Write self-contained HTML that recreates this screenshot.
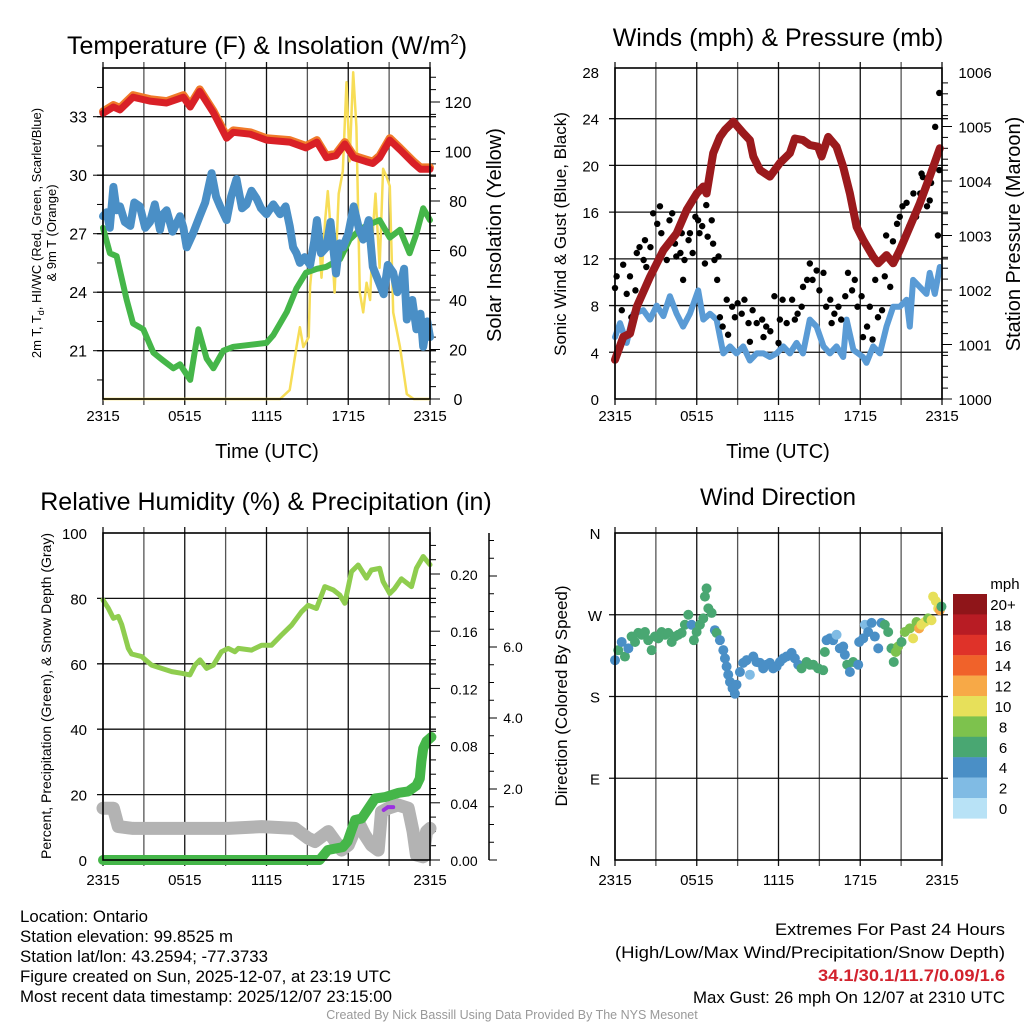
<!DOCTYPE html>
<html><head><meta charset="utf-8">
<style>
html,body{margin:0;padding:0;background:#fff;}
svg{display:block;font-family:"Liberation Sans",Arial,sans-serif;}
</style></head>
<body>
<svg id="chart" width="1024" height="1024" viewBox="0 0 1024 1024" xmlns="http://www.w3.org/2000/svg">
<rect x="0" y="0" width="1024" height="1024" fill="#fff"/>
<g id="p1"></g>
<g id="p2"></g>
<g id="p3"></g>
<g id="p4"></g>
<g id="txt">
<text x="267" y="54" font-size="25" text-anchor="middle">Temperature (F) &amp; Insolation (W/m<tspan font-size="15" dy="-10">2</tspan><tspan dy="10">)</tspan></text>
<text x="778" y="46" font-size="25" text-anchor="middle">Winds (mph) &amp; Pressure (mb)</text>
<text x="266" y="510" font-size="25" text-anchor="middle">Relative Humidity (%) &amp; Precipitation (in)</text>
<text x="778" y="505" font-size="24" text-anchor="middle">Wind Direction</text>
<text x="267" y="458" font-size="20" text-anchor="middle">Time (UTC)</text>
<text x="778" y="458" font-size="20" text-anchor="middle">Time (UTC)</text>
<g font-size="13" text-anchor="middle">
<text transform="translate(41,233) rotate(-90)">2m T, T<tspan font-size="9" dy="3">d</tspan><tspan dy="-3">, HI/WC (Red, Green, Scarlet/Blue)</tspan></text>
<text transform="translate(56,233) rotate(-90)">&amp; 9m T (Orange)</text>
</g>
<text transform="translate(501,235) rotate(-90)" font-size="20" text-anchor="middle">Solar Insolation (Yellow)</text>
<text transform="translate(566,234) rotate(-90)" font-size="17" text-anchor="middle">Sonic Wind &amp; Gust (Blue, Black)</text>
<text transform="translate(1020,234) rotate(-90)" font-size="20" text-anchor="middle">Station Pressure (Maroon)</text>
<text transform="translate(51,696) rotate(-90)" font-size="14" text-anchor="middle">Percent, Precipitation (Green), &amp; Snow Depth (Gray)</text>
<text transform="translate(567,696) rotate(-90)" font-size="17" text-anchor="middle">Direction (Colored By Speed)</text>
<g font-size="16.5">
<text x="20" y="922" textLength="128" lengthAdjust="spacingAndGlyphs">Location: Ontario</text>
<text x="20" y="942" textLength="213" lengthAdjust="spacingAndGlyphs">Station elevation: 99.8525 m</text>
<text x="20" y="962" textLength="248" lengthAdjust="spacingAndGlyphs">Station lat/lon: 43.2594; -77.3733</text>
<text x="20" y="982" textLength="371" lengthAdjust="spacingAndGlyphs">Figure created on Sun, 2025-12-07, at 23:19 UTC</text>
<text x="20" y="1002" textLength="372" lengthAdjust="spacingAndGlyphs">Most recent data timestamp: 2025/12/07 23:15:00</text>
</g>
<g font-size="17" text-anchor="end">
<text x="1005" y="935" textLength="230" lengthAdjust="spacingAndGlyphs">Extremes For Past 24 Hours</text>
<text x="1005" y="958" textLength="390" lengthAdjust="spacingAndGlyphs">(High/Low/Max Wind/Precipitation/Snow Depth)</text>
<text x="1005" y="981" fill="#d2222d" font-weight="bold" textLength="187" lengthAdjust="spacingAndGlyphs">34.1/30.1/11.7/0.09/1.6</text>
<text x="1005" y="1003" textLength="312" lengthAdjust="spacingAndGlyphs">Max Gust: 26 mph On 12/07 at 2310 UTC</text>
</g>
<text x="512" y="1019" font-size="12.5" fill="#999" text-anchor="middle">Created By Nick Bassill Using Data Provided By The NYS Mesonet</text>
</g>
</svg>
<script>
// ---------- DATA ----------
const xTickLabels = ["2315","0515","1115","1715","2315"];
const tempTicks = [33,30,27,24,21];
const insolTicks = [0,20,40,60,80,100,120];
const windTicks = [0,4,8,12,16,20,24,28];
const presTicks = [1000,1001,1002,1003,1004,1005,1006];
const rhTicks = [0,20,40,60,80,100];
const precipTicks = [0.00,0.04,0.08,0.12,0.16,0.20];
const snowTicks = [2.0,4.0,6.0];
const dirLabels = ["N","W","S","E","N"];
const dirTicks = [360,270,180,90,0];
const speedBins = ["20+","18","16","14","12","10","8","6","4","2","0"];
const speedColors = ["#8f1519","#b81c24","#df3229","#f0622a","#f7a947","#e7e05a","#7dc24d","#49a772","#4a8fc6","#80bbe4","#b8e2f6"];

const redHours = [0,0.76,1.25,2.2,3.45,4.67,5.9,6.4,7.1,8.1,9.07,9.56,10.8,12.0,13.7,14.9,15.7,16.4,17.1,17.75,18.4,19.3,19.8,20.3,21.05,21.8,22.8,23.3,24];
const redTemp = [33.17,33.5,33.35,34.0,33.8,33.7,34.0,33.5,34.3,33.2,31.9,32.2,32.1,31.8,31.7,31.4,31.7,30.9,31.0,31.6,30.9,30.7,30.6,30.9,31.8,31.3,30.6,30.3,30.3];
const orangeTemp = [33.27,33.6,33.45,34.1,33.9,33.8,34.1,33.6,34.4,33.3,32.0,32.3,32.2,31.9,31.8,31.5,31.8,31.0,31.1,31.7,31.0,30.8,30.7,31.0,31.9,31.4,30.7,30.4,30.4];
const blueHours = [0,0.27,0.5,0.76,1.0,1.25,1.6,2.0,2.3,2.71,3.1,3.45,3.8,4.18,4.4,4.67,5.1,5.65,5.9,6.14,6.6,7.1,7.5,7.97,8.3,8.6,9.07,9.4,9.8,10.2,10.54,10.9,11.27,11.6,12.0,12.5,13.0,13.4,13.7,13.95,14.2,14.45,14.8,15.2,15.5,15.7,16.0,16.4,16.7,17.1,17.35,17.6,18.0,18.4,18.8,19.1,19.5,19.8,20.2,20.6,20.9,21.3,21.6,21.8,22.1,22.3,22.7,23.0,23.3,23.5,23.8,24];
const blueTemp = [27.9,28.1,27.3,29.4,28.2,28.4,27.6,27.4,28.6,28.4,27.3,27.6,28.5,27.2,28.0,28.2,27.1,27.9,27.3,26.3,27.0,27.9,28.6,30.1,28.9,28.4,27.7,28.9,29.8,28.3,28.5,29.2,28.8,28.3,28.0,28.5,28.0,28.4,27.4,26.3,26.0,25.5,25.8,25.4,26.6,27.7,26.0,26.3,27.6,24.96,26.5,26.3,27.0,28.4,27.2,26.7,27.7,25.3,24.6,23.9,25.4,25.0,24.0,24.3,25.2,22.6,23.6,22.1,22.9,21.2,22.5,21.7];
const greenHours = [0,0.51,1.0,1.74,2.2,2.96,3.7,4.4,5.16,5.65,6.4,7.0,7.6,8.1,8.83,9.56,10.8,12.0,12.5,13.5,14.2,14.9,15.7,16.4,17.4,18.1,18.85,19.3,20.3,21.05,21.8,22.5,23.0,23.5,24];
const greenTemp = [27.3,26.0,25.85,23.6,22.4,22.1,20.9,20.5,20.1,20.3,19.5,22.1,20.6,20.1,21.0,21.2,21.3,21.4,21.8,23.0,24.2,25.0,25.2,25.3,25.7,26.7,27.2,27.4,27.7,26.8,27.2,26.0,27.0,28.3,27.7];
const solarHours = [0,13.0,13.7,14.2,14.45,14.7,15.1,15.2,15.55,15.8,16.04,16.3,16.5,16.8,17.0,17.3,17.6,17.87,18.1,18.36,18.6,18.85,19.1,19.35,19.6,19.83,20.0,20.3,20.56,20.8,21.05,21.3,21.8,22.3,22.8,24];
const solarWm2 = [0,0,3.6,21,29,21,25,45.5,67,70,49,72,84,62,43,83,92,128,96,132,110,43,35,47,40,70,83,53,93,90,86,35,21,2,0,0];

const presHours = [0,0.61,1.1,1.59,2.57,3.55,4.52,5.26,6.0,6.48,6.72,7.21,7.7,8.07,8.68,9.41,9.9,10.15,10.64,11.37,12.1,12.84,13.2,13.8,14.3,14.9,15.16,15.65,16.26,16.75,17.24,17.73,18.22,18.95,19.32,19.93,20.42,20.9,21.64,22.37,23.1,23.84];
const presMb = [1000.72,1001.14,1001.2,1001.69,1002.24,1002.73,1003.04,1003.47,1003.77,1003.9,1003.77,1004.51,1004.81,1004.94,1005.09,1004.88,1004.75,1004.45,1004.2,1004.08,1004.33,1004.51,1004.78,1004.75,1004.66,1004.63,1004.45,1004.81,1004.63,1004.26,1003.77,1003.16,1002.92,1002.61,1002.49,1002.64,1002.49,1002.73,1003.16,1003.59,1004.08,1004.6];
const windHours = [0,0.37,0.86,1.34,2.08,2.57,3.06,3.55,4.03,4.52,5.0,5.5,6.11,6.48,6.97,7.46,7.95,8.44,8.92,9.41,9.9,10.4,10.9,11.37,11.86,12.35,12.84,13.33,13.8,14.3,14.8,15.3,15.77,16.26,16.75,17.0,17.5,18.2,18.46,18.95,19.44,19.93,20.42,20.9,21.4,21.64,21.88,22.37,22.86,23.1,23.47,23.84];
const windMph = [5.3,6.5,4.8,7.3,7.6,6.8,8.0,7.1,8.8,7.3,6.2,7.3,9.3,6.8,7.3,6.8,3.9,4.5,3.9,4.5,3.3,3.9,3.9,3.6,3.9,4.5,3.9,4.8,3.9,6.8,6.2,4.5,3.9,4.5,3.6,6.8,4.2,3.6,3.1,4.5,3.9,6.2,7.9,7.9,8.5,6.2,10.2,9.6,9.0,10.8,9.0,11.3];
const gustHours = [0,0.12,0.6,0.5,0.86,1.1,1.2,1.5,1.6,1.8,2.1,2.2,2.3,2.6,2.8,3.1,3.3,3.4,3.7,3.8,4.0,4.2,4.4,4.5,4.8,4.9,5.0,5.1,5.4,5.5,5.7,5.9,6.1,6.2,6.4,6.6,6.7,6.8,7.1,7.2,7.3,7.5,7.6,7.7,7.9,8.2,8.3,8.6,8.8,9.0,9.3,9.5,9.8,9.9,10.1,10.4,10.8,10.9,11.1,11.4,11.7,12.0,12.1,12.3,12.6,13.0,13.2,13.4,13.7,13.8,14.1,14.3,14.5,14.8,15.0,15.3,15.5,15.8,15.9,16.1,16.4,16.6,16.9,17.1,17.4,17.6,17.8,18.1,18.2,18.5,18.7,18.9,19.1,19.3,19.6,19.8,19.9,20.2,20.4,20.7,20.9,21.1,21.4,21.6,21.9,22.1,22.4,22.5,22.6,22.9,23.1,23.2,23.5,23.7,23.8,23.8];
const gustMph = [9.5,10.5,11.5,7.6,9.0,10.5,7.0,9.3,12.5,13.0,11.9,13.6,11.3,13.0,15.9,15.0,16.5,14.2,13.0,11.9,15.3,15.9,13.3,12.2,12.5,14.2,10.2,11.9,13.6,14.2,12.5,15.6,15.3,14.2,14.8,11.6,16.6,13.9,15.3,13.3,11.9,10.2,12.2,7.0,6.2,8.5,5.5,7.9,7.0,8.2,7.3,8.5,6.5,4.9,7.6,6.5,6.8,5.3,6.2,5.8,8.8,4.8,6.8,8.5,6.5,8.5,6.8,7.3,7.9,9.6,10.2,11.6,10.2,11.0,9.3,10.8,7.9,8.5,6.5,7.3,7.9,6.8,8.8,10.8,9.3,10.2,7.9,8.8,5.3,6.2,7.9,5.1,10.2,7.0,7.6,10.5,14.0,9.6,13.5,15.0,15.6,16.5,16.8,14.8,17.6,15.6,17.6,19.3,19.0,16.5,17.0,18.5,23.3,14.0,19.6,26.2];

const rhHours = [0,0.39,0.76,1.12,1.37,1.86,2.1,2.84,3.57,4.3,5.04,5.78,6.38,6.75,7.12,7.6,8.1,8.7,9.19,9.68,9.93,10.9,11.64,12.37,13.1,13.84,14.57,15.06,15.67,16.28,16.9,17.38,17.75,18.24,18.73,19.34,19.7,20.3,20.55,21.05,21.4,21.9,22.64,23.0,23.5,24];
const rhPct = [79.5,77,73.9,74.5,72,64.7,63,62.2,59.6,58.6,57.6,57.1,56.6,59.6,61.2,58.6,59.6,63.7,64.7,63.7,64.7,64.2,65.7,65.7,68.8,71.8,75.9,77.9,76.9,83.6,82.6,81,78.5,88.2,90.2,86.2,88.7,89.2,85.2,81.5,83,86,83.6,89.2,92.8,90.3];
const precipHours = [0,15.9,16.5,17.6,17.95,18.5,18.99,19.48,19.97,20.7,21.7,22.4,23.0,23.25,23.37,23.5,23.74,24.1];
const precipIn = [0,0,0.007,0.009,0.013,0.028,0.029,0.036,0.043,0.044,0.047,0.048,0.052,0.057,0.069,0.078,0.083,0.086];
const snowHours = [0,0.39,0.76,1.12,2.2,4.3,9.19,11.64,14.08,15.06,15.55,16.53,17.51,18.0,18.73,19.22,19.7,20.2,20.44,20.93,21.66,22.4,22.76,23.0,23.5,23.74,24];
const snowIn = [1.46,1.46,1.46,0.94,0.89,0.89,0.89,0.94,0.89,0.61,0.52,0.80,0.28,0.42,1.08,0.70,0.42,0.28,1.36,1.46,1.55,1.46,0.80,0.14,0.09,0.80,0.89];
const purpleHours = [20.6,20.9,21.3];
const purpleIn = [0.035,0.037,0.037];

const dirHours = [0,0.24,0.49,0.73,0.98,1.22,1.47,1.71,1.96,2.2,2.44,2.69,2.93,3.18,3.42,3.67,3.91,4.16,4.4,4.65,4.89,5.13,5.38,5.62,5.79,5.99,6.23,6.48,6.6,6.72,6.85,7.09,7.33,7.46,7.7,7.95,8.07,8.19,8.31,8.44,8.63,8.8,8.92,9.17,9.41,9.66,9.9,10.15,10.39,10.64,10.88,11.12,11.37,11.61,11.86,12.1,12.35,12.59,12.96,13.2,13.45,13.69,14.06,14.3,14.55,14.91,15.28,15.4,15.53,15.77,16.01,16.26,16.5,16.75,16.87,17.04,17.24,17.48,17.85,17.92,18.22,18.34,18.58,18.83,19.07,19.32,19.56,19.8,20.05,20.29,20.46,20.61,20.78,21.03,21.27,21.64,21.88,22.13,22.32,22.49,22.74,22.98,23.23,23.35,23.55,23.72,23.84,23.96];
const dirDeg = [220,231,240,224,233,246,240,250,248,251,242,231,246,244,251,248,250,240,246,248,250,259,270,259,242,251,259,266,290,299,277,272,253,250,242,231,222,213,204,196,189,183,193,207,217,220,204,224,218,217,211,215,217,211,213,218,222,224,228,222,215,211,218,215,215,211,209,229,242,244,242,248,233,235,226,215,207,218,215,240,244,259,251,261,246,233,261,259,251,233,218,229,235,240,251,255,244,262,255,259,262,266,264,290,285,277,275,279];
const dirSpeed = [4,6,4,6,4,6,6,6,7,7,6,6,6,6,7,7,7,7,6,6,7,6,6,4,6,7,6,6,6,7,6,7,4,6,4,4,4,4,4,4,4,4,4,4,4,4,2,4,4,4,4,4,4,4,4,4,4,4,4,4,4,6,6,6,6,6,6,6,4,4,4,2,4,4,4,6,4,6,4,4,4,2,4,4,4,4,4,6,6,6,6,8,8,6,8,8,10,8,12,10,10,8,10,10,10,10,12,6];

// ---------- HELPERS ----------
const NS = "http://www.w3.org/2000/svg";
function mk(parent, tag, attrs){ const e=document.createElementNS(NS,tag); for(const k in attrs) e.setAttribute(k,attrs[k]); parent.appendChild(e); return e; }
function linePath(xs, ys, xf, yf){ let d=""; for(let i=0;i<xs.length;i++){ d+=(i?"L":"M")+xf(xs[i]).toFixed(1)+","+yf(ys[i]).toFixed(1);} return d; }

function frame(g, L, T, R, B, hGridYs){
  for(let k=0;k<=8;k++){
    const x=L+(R-L)*k/8;
    const v=mk(g,"line",{x1:x,y1:T-6,x2:x,y2:B+6,stroke:(k%2? "#555":"#111"),"stroke-width":1.3});
    
    
  }
  hGridYs.forEach(y=>{
    const h=mk(g,"line",{x1:L-6,y1:y,x2:R+6,y2:y,stroke:"#111","stroke-width":1.3});
    
    
  });
}
function border(g,L,T,R,B){
  const b=mk(g,"rect",{x:L,y:T,width:R-L,height:B-T,fill:"none",stroke:"#000","stroke-width":1.6});
  
  
}
function xLabels(g,L,R,y){
  xTickLabels.forEach((t,i)=>{
    const tx=mk(g,"text",{x:L+(R-L)*i/4,y:y,"font-size":15,"text-anchor":"middle"});
    tx.textContent=t;
    
    
  });
}

// ---------- PANEL 1 ----------
(function(){
  const g=document.getElementById("p1");
  const L=103,R=430,T=68,B=399;
  const x=h=>L+h*(R-L)/24;
  const yT=t=>116.7-(t-33)*19.5;
  const yS=w=>399-w*2.475;
  frame(g,L,T,R,B,tempTicks.map(yT));
  tempTicks.forEach(t=>{
    const tx=mk(g,"text",{x:L-16,y:yT(t)+6,"font-size":16,"text-anchor":"end"}); tx.textContent=t;
    
    
  });
  for(let t=19.5;t<=35;t+=1.5){ mk(g,"line",{x1:L-(t%3===0?10:6),y1:yT(t),x2:L,y2:yT(t),stroke:"#000","stroke-width":1}); }
  for(let w=0;w<=130;w+=5){ mk(g,"line",{x1:R,y1:yS(w),x2:R+(w%20===0?10:6),y2:yS(w),stroke:"#000","stroke-width":1}); }
  insolTicks.forEach(w=>{
    const tx=mk(g,"text",{x:R+28,y:yS(w)+6,"font-size":16,"text-anchor":"middle"}); tx.textContent=w;
    
    
  });
  const sol=mk(g,"path",{d:linePath(solarHours,solarWm2,x,yS),fill:"none",stroke:"#f7dd57","stroke-width":2.5,"stroke-linejoin":"round"});
  
  
  const gr=mk(g,"path",{d:linePath(greenHours,greenTemp,x,yT),fill:"none",stroke:"#45b649","stroke-width":6,"stroke-linejoin":"round","stroke-linecap":"round"});
  
  
  const bl=mk(g,"path",{d:linePath(blueHours,blueTemp,x,yT),fill:"none",stroke:"#4a8fc6","stroke-width":8,"stroke-linejoin":"round","stroke-linecap":"round"});
  
  
  const or=mk(g,"path",{d:linePath(redHours,orangeTemp,x,yT),fill:"none",stroke:"#f07a2a","stroke-width":8,"stroke-linejoin":"round","stroke-linecap":"round"});
  
  
  const rd=mk(g,"path",{d:linePath(redHours,redTemp,x,yT),fill:"none",stroke:"#d92027","stroke-width":7,"stroke-linejoin":"round","stroke-linecap":"round"});
  
  
  border(g,L,T,R,B);
  xLabels(g,L,R,421);
})();

// ---------- PANEL 2 ----------
(function(){
  const g=document.getElementById("p2");
  const L=615,R=942,T=68,B=399;
  const x=h=>L+h*(R-L)/24;
  const yW=v=>399-v*11.68;
  const yP=p=>399-(p-1000)*54.5;
  frame(g,L,T,R,B,windTicks.slice(1,7).map(yW));
  windTicks.forEach(v=>{
    const tx=mk(g,"text",{x:L-16,y:yW(v)+6,"font-size":15,"text-anchor":"end"}); tx.textContent=v;
    
    
  });
  for(let p=1000;p<=1006;p+=0.2){ const major=Math.abs(p-Math.round(p))<0.01; mk(g,"line",{x1:R,y1:yP(p),x2:R+(major?10:6),y2:yP(p),stroke:"#000","stroke-width":1}); }
  presTicks.forEach(p=>{
    const tx=mk(g,"text",{x:R+33,y:yP(p)+6,"font-size":15,"text-anchor":"middle"}); tx.textContent=p;
    
    
  });
  const bl=mk(g,"path",{d:linePath(windHours,windMph,x,yW),fill:"none",stroke:"#5a9bd5","stroke-width":6,"stroke-linejoin":"round","stroke-linecap":"round"});
  
  
  gustHours.forEach((h,i)=>{
    const c=mk(g,"circle",{cx:x(h),cy:yW(gustMph[i]),r:3.2,fill:"#000"});
    
    
  });
  const pr=mk(g,"path",{d:linePath(presHours,presMb,x,yP),fill:"none",stroke:"#9b1a1d","stroke-width":8,"stroke-linejoin":"round","stroke-linecap":"round"});
  
  
  border(g,L,T,R,B);
  xLabels(g,L,R,421);
})();

// ---------- PANEL 3 ----------
(function(){
  const g=document.getElementById("p3");
  const L=103,R=430,T=533,B=860;
  const x=h=>L+h*(R-L)/24;
  const yR=r=>860-r*3.27;
  const yPr=p=>860-p*1430;
  const yS=s=>860-s*35.5;
  frame(g,L,T,R,B,rhTicks.slice(1,5).map(yR));
  rhTicks.forEach(r=>{
    const tx=mk(g,"text",{x:L-16,y:yR(r)+6,"font-size":15,"text-anchor":"end"}); tx.textContent=r;
    
    
  });
  for(let p=0;p<=0.225;p+=0.01){ const major=Math.round(p*100)%4===0; mk(g,"line",{x1:R,y1:yPr(p),x2:R+(major?10:6),y2:yPr(p),stroke:"#000","stroke-width":1}); }
  precipTicks.forEach(p=>{
    const tx=mk(g,"text",{x:R+34,y:yPr(p)+6,"font-size":14,"text-anchor":"middle"}); tx.textContent=p.toFixed(2);
    
    
  });
  mk(g,"line",{x1:489,y1:533,x2:489,y2:860,stroke:"#000","stroke-width":1.5});
  for(let s=0;s<=9;s+=0.5){ const major=Math.abs(s%2)<0.01; if(yS(s)<533) break; mk(g,"line",{x1:489,y1:yS(s),x2:489+(major?8:5),y2:yS(s),stroke:"#000","stroke-width":1}); }
  snowTicks.forEach(s=>{
    const tx=mk(g,"text",{x:513,y:yS(s)+5,"font-size":14,"text-anchor":"middle"}); tx.textContent=s.toFixed(1);
    
    
  });
  const sn=mk(g,"path",{d:linePath(snowHours,snowIn,x,yS),fill:"none",stroke:"#b3b3b3","stroke-width":13,"stroke-linejoin":"round","stroke-linecap":"round"});
  
  
  const pc=mk(g,"path",{d:linePath(precipHours,precipIn,x,yPr),fill:"none",stroke:"#45b649","stroke-width":10,"stroke-linejoin":"round","stroke-linecap":"round"});
  
  
  const pu=mk(g,"path",{d:linePath(purpleHours,purpleIn,x,yPr),fill:"none",stroke:"#9b30e0","stroke-width":4,"stroke-linecap":"round"});
  
  
  const rh=mk(g,"path",{d:linePath(rhHours,rhPct,x,yR),fill:"none",stroke:"#8fcd4f","stroke-width":5,"stroke-linejoin":"round","stroke-linecap":"round"});
  
  
  border(g,L,T,R,B);
  xLabels(g,L,R,885);
})();

// ---------- PANEL 4 ----------
(function(){
  const g=document.getElementById("p4");
  const L=615,R=942,T=533,B=860;
  const x=h=>L+h*(R-L)/24;
  const yD=d=>860-d*327/360;
  frame(g,L,T,R,B,dirTicks.slice(1,4).map(yD));
  dirLabels.forEach((t,i)=>{
    const tx=mk(g,"text",{x:L-20,y:yD(dirTicks[i])+6,"font-size":15,"text-anchor":"middle"}); tx.textContent=t;
    
    
  });
  function colorFor(s){ const idx=10-Math.min(10,Math.floor(s/2)); return speedColors[idx]; }
  dirHours.forEach((h,i)=>{
    const c=mk(g,"circle",{cx:x(h),cy:yD(dirDeg[i]),r:5,fill:colorFor(dirSpeed[i])});
    
    
  });
  border(g,L,T,R,B);
  xLabels(g,L,R,885);
  const cb=mk(g,"g",{});
  
  
  const t0=mk(cb,"text",{x:1005,y:589,"font-size":15,"text-anchor":"middle"}); t0.textContent="mph";
  speedBins.forEach((lab,i)=>{
    const y0=594+i*20.4;
    const r=mk(cb,"rect",{x:953,y:y0,width:34,height:20.6,fill:speedColors[i]});
    
    
    const t=mk(cb,"text",{x:1003,y:y0+16,"font-size":15,"text-anchor":"middle"}); t.textContent=lab;
    
    
  });
})();
</script>
</body></html>
